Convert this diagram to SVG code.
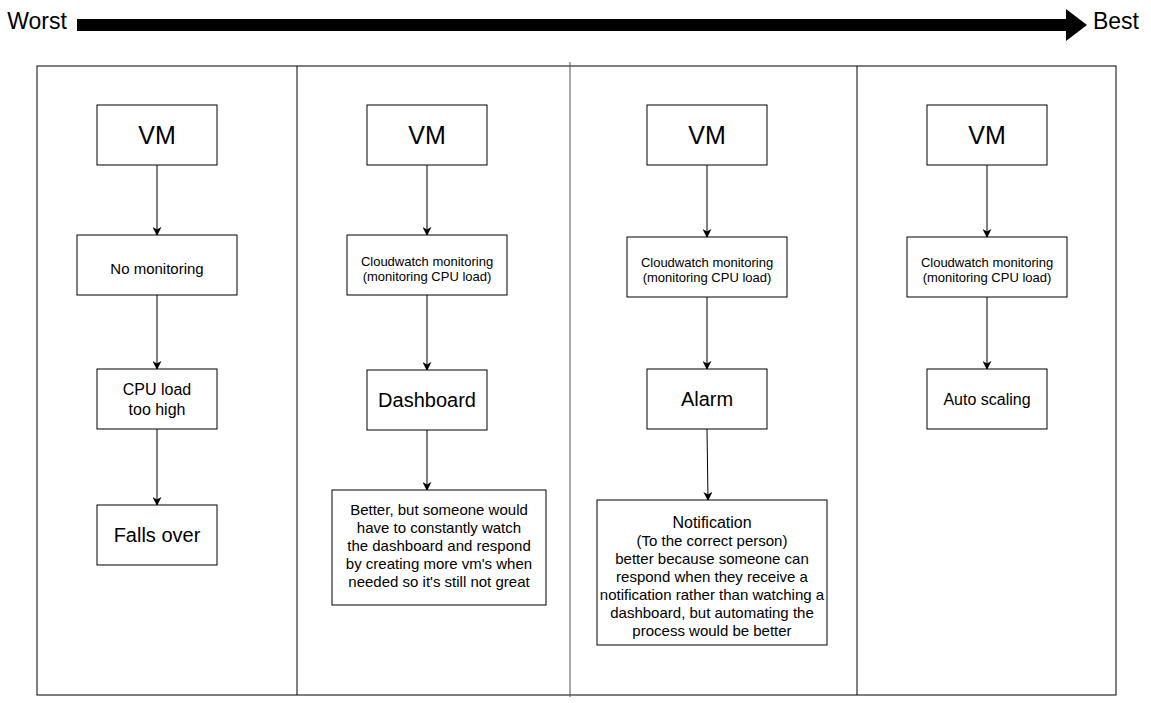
<svg xmlns="http://www.w3.org/2000/svg" width="1151" height="703" viewBox="0 0 1151 703">
<style>
text{font-family:"Liberation Sans",Arial,Helvetica,sans-serif;fill:#000;text-anchor:middle}
.box{fill:#fff;stroke:#000;stroke-width:1}
.col{fill:none;stroke:#000;stroke-width:1}
.edge{fill:none;stroke:#000;stroke-width:1;marker-end:url(#arr)}
.t24{font-size:25px}.t20{font-size:20px}.t16{font-size:16px}.t14{font-size:15px}.t12{font-size:13px}
</style>
<defs>
<marker id="arr" viewBox="0 0 10 10" refX="9" refY="5" markerWidth="9" markerHeight="9" markerUnits="userSpaceOnUse" orient="auto">
<path d="M0,0 L10,5 L0,10 L3,5 Z" fill="#000"/>
</marker>
</defs>
<rect width="1151" height="703" fill="#fff"/>
<g id="scale">
<text x="37" y="29" style="font-size:23px">Worst</text>
<text x="1116" y="29" style="font-size:23px">Best</text>
<path d="M77,19 H1066 V9 L1087,25 L1066,41 V31 H77 Z" fill="#000"/>
</g>
<g id="columns">
<rect class="col" x="37" y="66" width="1079" height="629"/>
<line class="col" x1="297" y1="66" x2="297" y2="695"/>
<line x1="570" y1="62" x2="570" y2="697" stroke="#555" stroke-width="1"/>
<line class="col" x1="857" y1="66" x2="857" y2="695"/>
</g>
<g id="connectors">
<line class="edge" x1="157" y1="165" x2="157" y2="235"/>
<line class="edge" x1="157" y1="295" x2="157" y2="369"/>
<line class="edge" x1="157" y1="429" x2="157" y2="505"/>
<line class="edge" x1="427" y1="165" x2="427" y2="235"/>
<line class="edge" x1="427" y1="295" x2="427" y2="370"/>
<line class="edge" x1="427" y1="430" x2="427" y2="490"/>
<line class="edge" x1="707" y1="165" x2="707" y2="237"/>
<line class="edge" x1="707" y1="297" x2="707" y2="369"/>
<line class="edge" x1="707" y1="429" x2="708" y2="500"/>
<line class="edge" x1="987" y1="165" x2="987" y2="237"/>
<line class="edge" x1="987" y1="297" x2="987" y2="369"/>
</g>
<g id="c1-vm"><rect class="box" x="97" y="105" width="120" height="60"/><text class="t24" x="157" y="144">VM</text></g>
<g id="c1-nomon"><rect class="box" x="77" y="235" width="160" height="60"/><text class="t14" x="157" y="274">No monitoring</text></g>
<g id="c1-cpu"><rect class="box" x="97" y="369" width="120" height="60"/><text class="t16" x="157" y="395">CPU load</text><text class="t16" x="157" y="415">too high</text></g>
<g id="c1-falls"><rect class="box" x="97" y="505" width="120" height="60"/><text class="t20" x="157" y="542">Falls over</text></g>
<g id="c2-vm"><rect class="box" x="367" y="105" width="120" height="60"/><text class="t24" x="427" y="144">VM</text></g>
<g id="c2-cw"><rect class="box" x="347" y="235" width="160" height="60"/><text class="t12" x="427" y="266">Cloudwatch monitoring</text><text class="t12" x="427" y="281">(monitoring CPU load)</text></g>
<g id="c2-dash"><rect class="box" x="367" y="370" width="120" height="60"/><text class="t20" x="427" y="407">Dashboard</text></g>
<g id="c2-note"><rect class="box" x="332" y="490" width="214" height="115"/>
<text class="t14" x="439" y="515">Better, but someone would</text>
<text class="t14" x="439" y="533">have to constantly watch</text>
<text class="t14" x="439" y="551">the dashboard and respond</text>
<text class="t14" x="439" y="569">by creating more vm's when</text>
<text class="t14" x="439" y="587">needed so it's still not great</text></g>
<g id="c3-vm"><rect class="box" x="647" y="105" width="120" height="60"/><text class="t24" x="707" y="144">VM</text></g>
<g id="c3-cw"><rect class="box" x="627" y="237" width="160" height="60"/><text class="t12" x="707" y="267">Cloudwatch monitoring</text><text class="t12" x="707" y="282">(monitoring CPU load)</text></g>
<g id="c3-alarm"><rect class="box" x="647" y="369" width="120" height="60"/><text class="t20" x="707" y="406">Alarm</text></g>
<g id="c3-notif"><rect class="box" x="597" y="500" width="230" height="145"/>
<text class="t16" x="712" y="528">Notification</text>
<text class="t14" x="712" y="546">(To the correct person)</text>
<text class="t14" x="712" y="564">better because someone can</text>
<text class="t14" x="712" y="582">respond when they receive a</text>
<text class="t14" x="712" y="600">notification rather than watching a</text>
<text class="t14" x="712" y="618">dashboard, but automating the</text>
<text class="t14" x="712" y="636">process would be better</text></g>
<g id="c4-vm"><rect class="box" x="927" y="105" width="120" height="60"/><text class="t24" x="987" y="144">VM</text></g>
<g id="c4-cw"><rect class="box" x="907" y="237" width="160" height="60"/><text class="t12" x="987" y="267">Cloudwatch monitoring</text><text class="t12" x="987" y="282">(monitoring CPU load)</text></g>
<g id="c4-auto"><rect class="box" x="927" y="369" width="120" height="60"/><text class="t16" x="987" y="405">Auto scaling</text></g>
</svg>
